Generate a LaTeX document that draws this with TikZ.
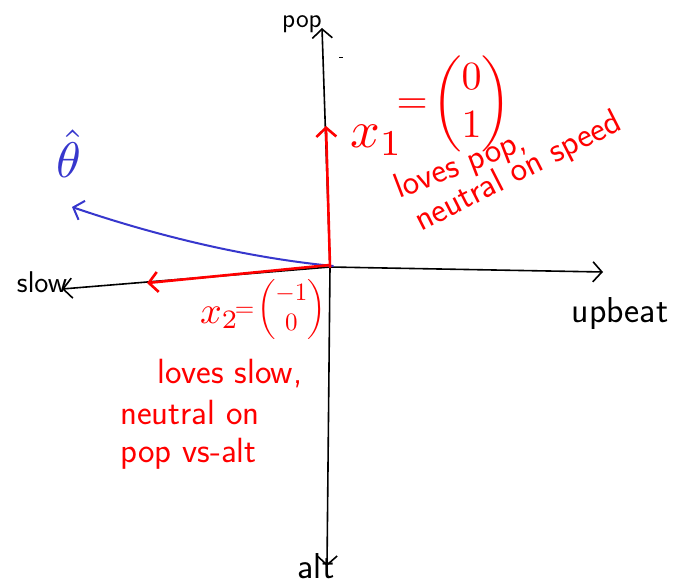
\documentclass[tikz,border=0pt]{standalone}
\usepackage{amsmath}
\usepackage{graphicx}
\usetikzlibrary{arrows.meta}
\definecolor{penblue}{RGB}{55,55,205}
\definecolor{penred}{RGB}{255,0,0}
\begin{document}
\begin{tikzpicture}[x=1pt,y=-1pt,
  axisline/.style={line width=1.6pt,black,line cap=round},
  axistip/.style={-{Straight Barb[length=9pt,width=20pt]}},
  redvec/.style={line width=2.6pt,penred,line cap=round,-{Straight Barb[length=9pt,width=20pt]}},
  bluevec/.style={line width=2pt,penblue,line cap=round,-{Straight Barb[length=9pt,width=20pt]}},
  lbl/.style={font=\sffamily\fontsize{30}{34}\selectfont,inner sep=0pt,anchor=base},
  redtxt/.style={font=\sffamily\fontsize{35}{40}\selectfont,text=penred,inner sep=0pt,anchor=base west},
]
\clip (0,0) rectangle (687,585);
\fill[white] (0,0) rectangle (687,585);
% axes
\coordinate (O) at (330,267);
\coordinate (top) at (322,28);
\coordinate (bot) at (327,566);
\coordinate (left) at (62,289);
\coordinate (right) at (603,272);
\draw[axisline,axistip] (O) -- (top);
\draw[axisline,axistip] (O) -- (bot);
\draw[axisline,axistip] (O) -- (left);
\draw[axisline,axistip] (O) -- (right);
\coordinate (dashA) at (339,58);
\coordinate (dashB) at (343,58);
\draw[line width=1pt] (dashA) -- (dashB);
% axis labels
\node[lbl,font=\sffamily\fontsize{27}{30}\selectfont] (pop) at (302,28) {pop};
\node[lbl,font=\sffamily\fontsize{30}{34}\selectfont] (slow) at (42,292) {slow};
\node[lbl,font=\sffamily\fontsize{36}{40}\selectfont] (upbeat) at (620,322) {upbeat};
\node[lbl,font=\sffamily\fontsize{36}{40}\selectfont] (alt) at (316,578) {alt};
\node[lbl] (vs) at (190,600) {vs};
% vectors
\coordinate (x1tip) at (326,126);
\coordinate (x2base) at (330,265);
\coordinate (x2tip) at (147,283);
\coordinate (thtip) at (72,207);
\coordinate (thbase) at (333,266);
\draw[bluevec] (thbase) .. controls (250,258) and (160,237) .. (thtip);
\draw[redvec] (O) -- (x1tip);
\draw[redvec] (x2base) -- (x2tip);
% labels
\node[text=penblue,inner sep=0pt] (theta) at (69,154) {\scalebox{5}{$\hat{\theta}$}};
\node[text=penred,inner sep=0pt,anchor=base west] (x1lbl) at (350,148)
  {\scalebox{5.2}{$x_1$}\raisebox{34pt}{\scalebox{4}{$\!=\!\begin{pmatrix}0\\1\end{pmatrix}$}}};
\node[text=penred,inner sep=0pt,anchor=base west] (x2lbl) at (200,323)
  {\scalebox{3.8}{$x_2$}\raisebox{7pt}{\scalebox{2.5}{$\!=\!\begin{pmatrix}-1\\0\end{pmatrix}$}}};
\node[redtxt,rotate=21] (x1txtA) at (399,199) {loves pop,};
\node[redtxt,rotate=27] (x1txtB) at (421,232) {neutral on speed};
\node[redtxt] (x2txtA) at (157,383) {loves slow,};
\node[redtxt] (x2txtB) at (120,424) {neutral on};
\node[redtxt] (x2txtC) at (120,462) {pop vs-alt};
\end{tikzpicture}
\end{document}
